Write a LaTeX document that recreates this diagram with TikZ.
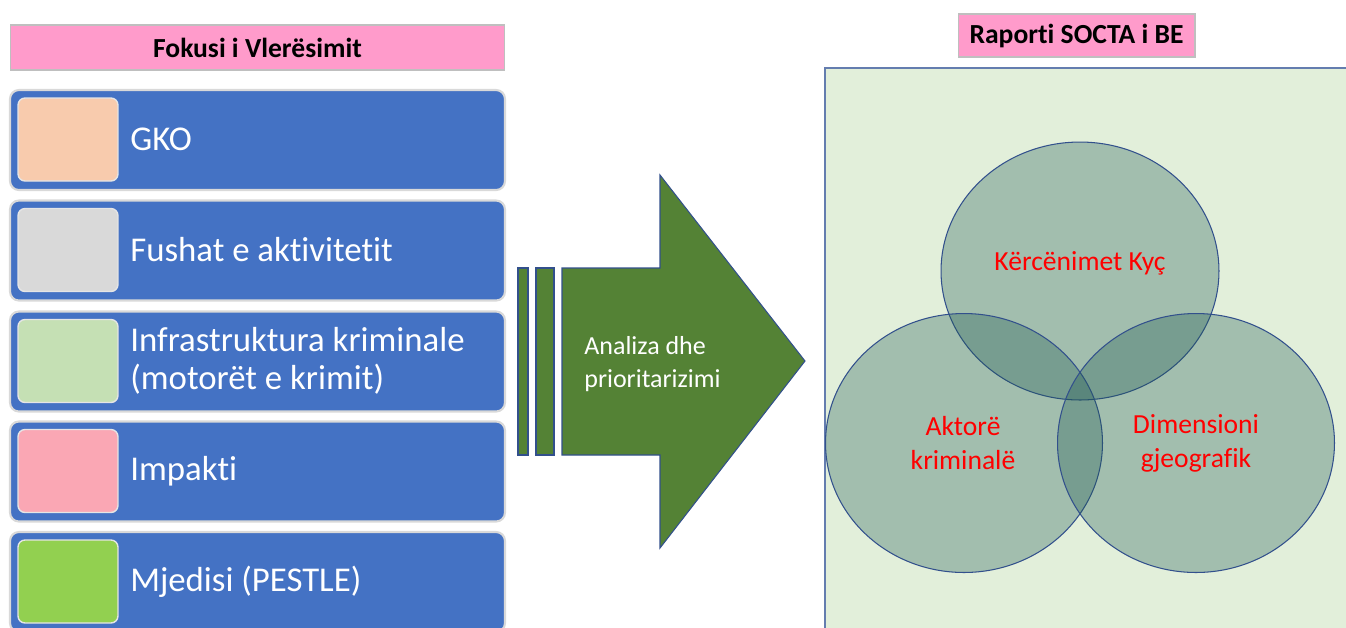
\documentclass[tikz,border=0pt]{standalone}
\usepackage{fontspec}
\setmainfont[Ligatures={NoCommon}]{Carlito}
\usetikzlibrary{shapes.geometric}
\definecolor{titlepink}{RGB}{255,155,203}
\definecolor{rowblue}{RGB}{68,114,196}
\definecolor{cpeach}{RGB}{248,203,173}
\definecolor{cgray}{RGB}{217,217,217}
\definecolor{clgreen}{RGB}{197,224,180}
\definecolor{cpink}{RGB}{250,167,180}
\definecolor{cgreen}{RGB}{146,208,80}
\definecolor{arrowgreen}{RGB}{84,130,53}
\definecolor{panelgreen}{RGB}{226,239,218}
\definecolor{panelborder}{RGB}{100,125,175}
\definecolor{venn}{RGB}{30,88,82}
\definecolor{vennborder}{RGB}{50,80,140}
\tikzset{
  titlebox/.style={draw=black!25, fill=titlepink, line width=0.6pt, inner sep=0pt, font=\fontsize{15.7pt}{18pt}\selectfont\bfseries},
  rowbox/.style={draw=black!15, line width=1.2pt, fill=rowblue, rounded corners=5pt, minimum width=9.9cm, minimum height=2cm, inner sep=0pt},
  swatch/.style={draw=white!90!black, line width=0.8pt, rounded corners=4pt, minimum width=2cm, minimum height=1.66cm, inner sep=0pt},
  rowtext/.style={text=white, anchor=west, align=left, inner sep=0pt, font=\fontsize{19.8pt}{21.6pt}\selectfont},
  venncirc/.style={draw=vennborder, line width=0.6pt, fill=venn, fill opacity=0.32},
  venntext/.style={text=red, align=center, font=\fontsize{15.7pt}{19.4pt}\selectfont},
}
\begin{document}
\begin{tikzpicture}[x=0.02cm,y=-0.02cm]
\useasboundingbox (0,0) rectangle (1346,627);
\clip (0,0) rectangle (1346,627);
% left title
\node[titlebox, minimum width=9.9cm, minimum height=0.9cm] (ltitle) at (257.5,47.5) {Fokusi i Vlerësimit};
% rows
\node[rowbox] (r1) at (257.5,140) {};
\node[rowbox] (r2) at (257.5,250.5) {};
\node[rowbox] (r3) at (257.5,361.5) {};
\node[rowbox] (r4) at (257.5,471.5) {};
\node[rowbox] (r5) at (257.5,582) {};
\node[swatch, fill=cpeach] (s1) at (68,139.5) {};
\node[swatch, fill=cgray] (s2) at (68,250) {};
\node[swatch, fill=clgreen] (s3) at (68,361) {};
\node[swatch, fill=cpink] (s4) at (68,471) {};
\node[swatch, fill=cgreen] (s5) at (68,581.5) {};
\node[rowtext] (t1) at (130,139.5) {GKO};
\node[rowtext] (t2) at (130,250) {Fushat e aktivitetit};
\node[rowtext] (t3) at (130,361) {Infrastruktura kriminale\\(motorët e krimit)};
\node[rowtext] (t4) at (130,471) {Impakti};
\node[rowtext] (t5) at (130,581.5) {Mjedisi (PESTLE)};
% arrow
\begin{scope}[draw=vennborder, line width=0.6pt, fill=arrowgreen]
\filldraw (518,268) rectangle (528,455);
\filldraw (536,268) rectangle (554,455);
\filldraw (562,268) -- (660,268) -- (660,175) -- (805,361) -- (660,548) -- (660,455) -- (562,455) -- cycle;
\end{scope}
\node[text=white, align=left, anchor=west, inner sep=0pt, font=\fontsize{14.8pt}{18.8pt}\selectfont] (arrtext) at (584,364) {Analiza dhe\\prioritarizimi};
% right title
\node[titlebox, minimum width=4.74cm, minimum height=0.86cm] (rtitle) at (1076.5,35.5) {Raporti SOCTA i BE};
% panel
\filldraw[fill=panelgreen, draw=panelborder, line width=1.2pt] (825,68) rectangle (1360,640);
% venn
\node[venncirc, ellipse, minimum width=5.56cm, minimum height=5.16cm, inner sep=0pt] (ctop) at (1080,271) {};
\node[venncirc, ellipse, minimum width=5.54cm, minimum height=5.18cm, inner sep=0pt] (cleft) at (964,443) {};
\node[venncirc, ellipse, minimum width=5.54cm, minimum height=5.18cm, inner sep=0pt] (cright) at (1196,443) {};
\node[venntext] (ktop) at (1080,263) {Kërcënimet Kyç};
\node[venntext] (kleft) at (963,443) {Aktorë\\kriminalë};
\node[venntext] (kright) at (1196,443) {Dimensioni\\gjeografik};
\end{tikzpicture}
\end{document}
